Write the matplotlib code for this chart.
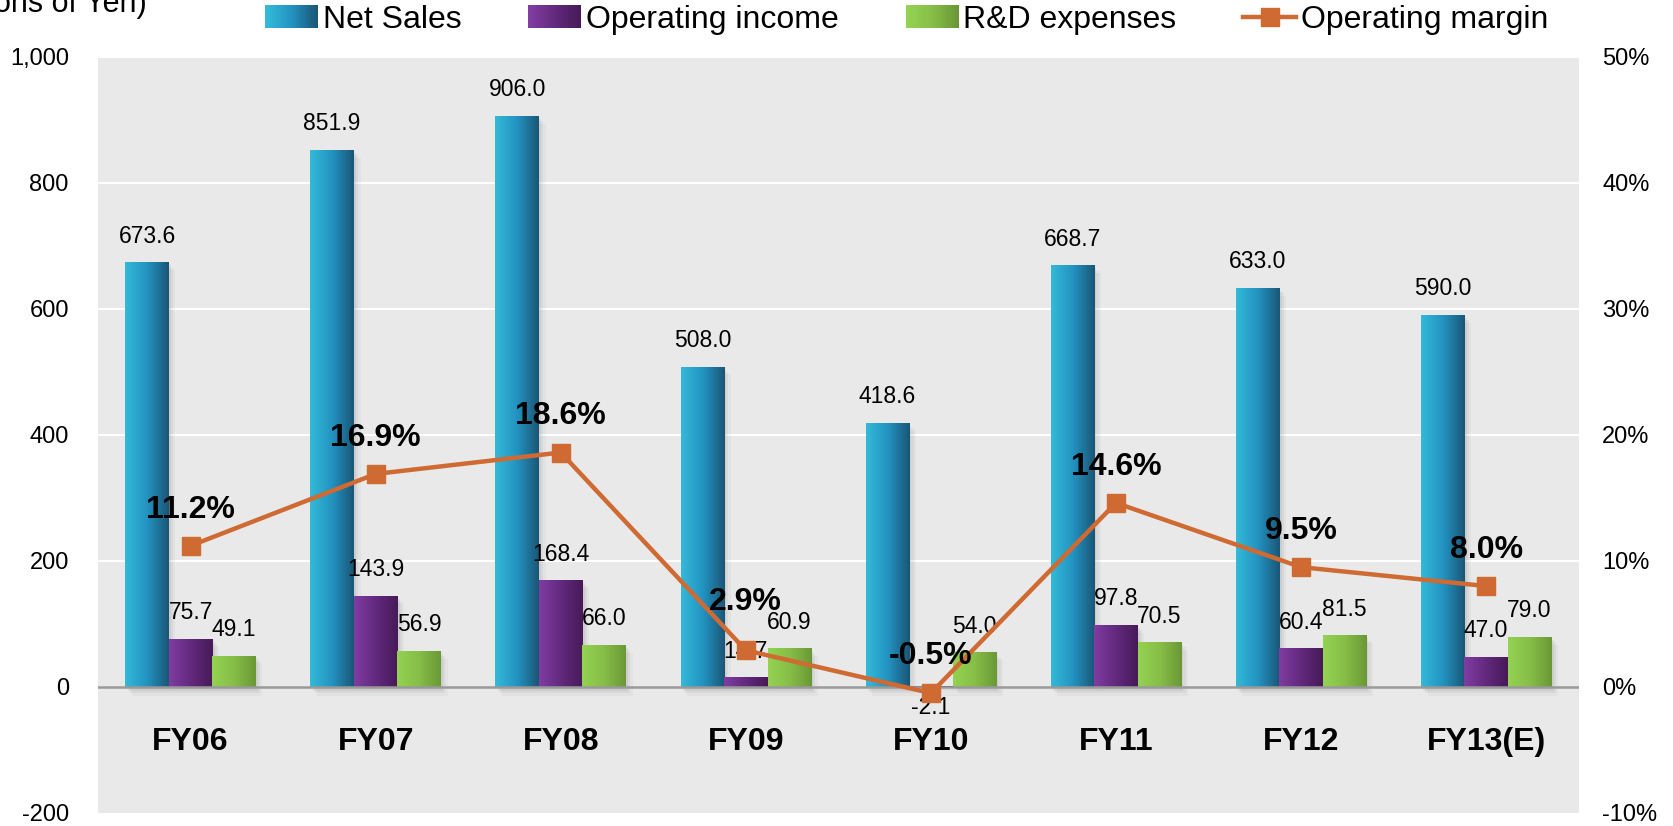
import numpy as np
import matplotlib
matplotlib.use("Agg")
import matplotlib.pyplot as plt
from matplotlib.colors import LinearSegmentedColormap
from matplotlib.patches import Rectangle
from matplotlib.lines import Line2D
from matplotlib.legend_handler import HandlerBase
from matplotlib.ticker import FuncFormatter

plt.rcParams['font.family'] = ['Liberation Sans', 'DejaVu Sans']

# --- data (billions of yen) ---
years = ["FY06", "FY07", "FY08", "FY09", "FY10", "FY11", "FY12", "FY13(E)"]
net_sales = [673.6, 851.9, 906.0, 508.0, 418.6, 668.7, 633.0, 590.0]
op_income = [75.7, 143.9, 168.4, 14.7, -2.1, 97.8, 60.4, 47.0]
rd_expenses = [49.1, 56.9, 66.0, 60.9, 54.0, 70.5, 81.5, 79.0]
op_margin = [11.2, 16.9, 18.6, 2.9, -0.5, 14.6, 9.5, 8.0]

series_names = ["Net Sales", "Operating income", "R&D expenses"]
grad_stops = [
    ["#33BAD9", "#2393C1", "#1A5676"],
    ["#813DA2", "#62297E", "#471A58"],
    ["#94D352", "#86BE48", "#6B9836"],
]
line_color = "#CF6A32"
bg_color = "#E9E9E9"
# vertical offset (points) of each margin label above its marker
margin_lift = [26, 26, 26, 35, 27, 26, 26, 26]


class GradHandler(HandlerBase):
    """legend swatch drawn as a left-to-right colour ramp"""
    def __init__(self, cmap):
        super().__init__()
        self.cmap = cmap

    def create_artists(self, legend, orig_handle, xdescent, ydescent,
                       width, height, fontsize, trans):
        n = 24
        arts = []
        for i in range(n):
            r = Rectangle((-xdescent + width * i / n, -ydescent - height * 0.1),
                          width / n * 1.1, height * 1.2,
                          facecolor=self.cmap(i / (n - 1)), edgecolor="none",
                          transform=trans)
            arts.append(r)
        return arts


fig = plt.figure(figsize=(16.73, 8.26), dpi=100)
ax = fig.add_axes([0.0586, 0.016, 0.885, 0.915])
ax.set_facecolor(bg_color)
for s in ax.spines.values():
    s.set_visible(False)

x = np.arange(len(years))
w = 0.235
offsets = [-w, 0, w]
cmaps = [LinearSegmentedColormap.from_list("g%d" % i, c) for i, c in enumerate(grad_stops)]
grad = np.linspace(0, 1, 256).reshape(1, -1)

# soft shadow behind each bar group
for xi, vals in zip(x, zip(net_sales, op_income, rd_expenses)):
    for k, v in enumerate(vals):
        x0 = xi + offsets[k] - w / 2
        top = max(v, 0)
        for j, a in enumerate([0.10, 0.07, 0.05]):
            d = 0.012 * (j + 1)
            ax.add_patch(Rectangle((x0 + d, -6 - 4 * j), w, top + 2, facecolor="#606060",
                                   edgecolor="none", alpha=a, zorder=1.5))

handles = []
for k, (vals, cm) in enumerate(zip([net_sales, op_income, rd_expenses], cmaps)):
    bars = ax.bar(x + offsets[k], vals, w, color="none", edgecolor="none", zorder=2)
    for b in bars:
        x0, y0 = b.get_x(), b.get_y()
        x1, y1 = x0 + b.get_width(), y0 + b.get_height()
        ax.imshow(grad, cmap=cm, extent=(x0, x1, min(y0, y1), max(y0, y1)),
                  aspect="auto", zorder=2.2, interpolation="bilinear")
    for xi, v in zip(x + offsets[k], vals):
        if v >= 0:
            ax.annotate("%.1f" % v, (xi, v), xytext=(0, 19), textcoords="offset points",
                        ha="center", va="center", fontsize=16.5, zorder=5)
        else:
            ax.annotate("%.1f" % v, (xi, v), xytext=(0, -14), textcoords="offset points",
                        ha="center", va="center", fontsize=16.5, zorder=5)
    handles.append(Rectangle((0, 0), 1, 1, label=series_names[k]))

ax.set_xlim(-0.5, len(years) - 0.5)
ax.set_ylim(-200, 1000)
ax.set_yticks(np.arange(-200, 1001, 200))
ax.yaxis.set_major_formatter(FuncFormatter(lambda v, p: "{:,.0f}".format(v)))
ax.tick_params(axis="y", length=0, labelsize=17, pad=21)
ax.set_xticks([])
for gy in range(200, 1001, 200):
    ax.axhline(gy, color="white", lw=1.5, zorder=1)
ax.axhline(0, color="#9A9A9A", lw=1.8, zorder=3)

for xi, name in zip(x, years):
    ax.text(xi, -88, name, ha="center", va="center", fontsize=23, fontweight="bold")

# operating margin on the secondary axis
ax2 = ax.twinx()
for s in ax2.spines.values():
    s.set_visible(False)
ax2.set_ylim(-10, 50)
ax2.set_yticks(np.arange(-10, 51, 10))
ax2.yaxis.set_major_formatter(FuncFormatter(lambda v, p: "%d%%" % v))
ax2.tick_params(axis="y", length=0, labelsize=17, pad=17)
ax2.plot(x, op_margin, color=line_color, lw=3.2, marker="s", markersize=13,
         zorder=4)
for xi, m, lift in zip(x, op_margin, margin_lift):
    ax2.annotate("%.1f%%" % m, (xi, m), xytext=(0, lift), textcoords="offset points",
                 ha="center", va="center", fontsize=23, fontweight="bold", zorder=6)

line_handle = Line2D([], [], color=line_color, lw=3.2, marker="s", markersize=13,
                     label="Operating margin")
hmap = {h: GradHandler(cm) for h, cm in zip(handles, cmaps)}
fig.legend(handles + [line_handle], series_names + ["Operating margin"],
           handler_map=hmap, loc="center", bbox_to_anchor=(0.542, 0.976), ncol=4,
           frameon=False, fontsize=23, handlelength=1.65, handleheight=0.55,
           handletextpad=0.15, columnspacing=2.1)

fig.text(0.088, 0.985, "(Billions of Yen)", ha="right", va="baseline", fontsize=22)

fig.savefig("out.png", dpi=100)
